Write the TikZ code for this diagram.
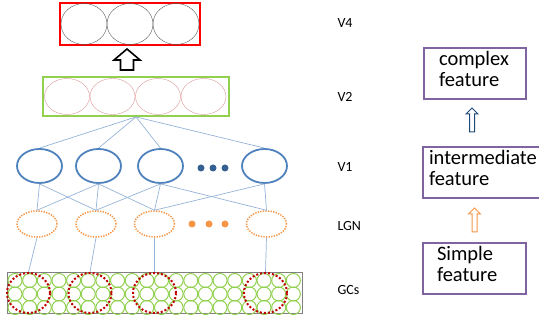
\documentclass[tikz,border=0pt]{standalone}
\usepackage{fontspec}
\setmainfont{Carlito}
\usetikzlibrary{shapes.geometric}
\definecolor{boxred}{HTML}{FF0000}
\definecolor{boxgreen}{HTML}{92D050}
\definecolor{rosy}{HTML}{D99694}
\definecolor{cellblue}{HTML}{4F81BD}
\definecolor{linkblue}{HTML}{95B3D7}
\definecolor{dotblue}{HTML}{376092}
\definecolor{cellorange}{HTML}{F79646}
\definecolor{gcred}{HTML}{C00000}
\definecolor{featpurple}{HTML}{8064A2}
\definecolor{arrowblue}{HTML}{1F497D}
\tikzset{
  cell/.style={ellipse,inner sep=0pt},
  v4cell/.style={cell,draw=black!65,minimum width=46,minimum height=41},
  v2cell/.style={cell,draw=rosy,minimum width=45,minimum height=36},
  v1cell/.style={cell,draw=cellblue,line width=1.8pt,minimum width=45,minimum height=34},
  lgncell/.style={cell,draw=cellorange,line width=1.5pt,dash pattern=on 1.3pt off 1.3pt,minimum width=40,minimum height=26},
  rf/.style={cell,draw=gcred,line width=2pt,dash pattern=on 2pt off 2pt,minimum width=43,minimum height=40},
  link/.style={draw=linkblue,line width=0.7pt},
  area/.style={anchor=west,font=\fontsize{14}{17}\selectfont},
  featbox/.style={draw=featpurple,line width=1.5pt,minimum height=49,align=left,
    font=\fontsize{20.5}{21}\selectfont,execute at end node={\par\vspace{9pt}}}
}
\begin{document}
\begin{tikzpicture}[x=1pt,y=-1pt]
\clip (0,0) rectangle (539,323);

% V4
\node[draw=boxred,line width=1.8pt,minimum width=140,minimum height=42,inner sep=0pt] (v4) at (130,24) {};
\foreach \i/\x in {1/84,2/130,3/176}
  \node[v4cell] (v4-\i) at (\x,24) {};
\draw[line width=1.6pt,line join=miter] (127,49) -- ++(13,11) -- ++(-6.5,0) -- ++(0,10)
  -- ++(-13,0) -- ++(0,-10) -- ++(-6.5,0) -- cycle;

% V2
\node[draw=boxgreen,line width=1.8pt,minimum width=186,minimum height=39,inner sep=0pt] (v2) at (136,96.5) {};
\foreach \i/\x in {1/67,2/112.5,3/158,4/203.5}
  \node[v2cell] (v2-\i) at (\x,96.5) {};

% V1
\foreach \i/\x in {1/39.5,2/98.5,3/160.5,4/264.5}
  \node[v1cell] (v1-\i) at (\x,166) {};
\foreach \x in {201,213,225}
  \fill[dotblue] (\x,168) circle (3.5);

% LGN
\foreach \i/\x in {1/37,2/96,3/154.5,4/266.5}
  \node[lgncell] (lgn-\i) at (\x,224) {};
\foreach \x in {192,209,225}
  \fill[cellorange] (\x,224) circle (3.5);

% GCs
\node[draw=black!50,line width=1pt,minimum width=295,minimum height=41,inner sep=0pt] (gc) at (154.5,293.5) {};
\foreach \c in {0,...,19}
  \foreach \y in {280.5,294,307.5}
    \draw[boxgreen,line width=1pt] (15+14.65*\c,\y) circle (7);
\foreach \i/\x in {1/28.5,2/90,3/154.5,4/265.5}
  \node[rf] (gc-\i) at (\x,293) {};

% connections
\foreach \i in {1,...,4}
  \draw[link] (v2.south) -- (v1-\i.north);
\foreach \a/\b in {1/1,1/2,2/1,2/2,2/3,3/2,3/3,3/4,4/3,4/4}
  \draw[link] (v1-\a.south) -- (lgn-\b.north);
\foreach \i in {1,...,4}
  \draw[link] (lgn-\i.south) -- (gc-\i.north);

% area labels
\node[area] (lv4) at (334,23) {V4};
\node[area] (lv2) at (334,97) {V2};
\node[area] (lv1) at (334,167) {V1};
\node[area] (llgn) at (334,226) {LGN};
\node[area] (lgcs) at (334,290) {GCs};

% features
\node[featbox,minimum width=102,text width=72,inner xsep=15] (cplx) at (475,73.5) {complex\\feature};
\node[featbox,minimum width=127,text width=115,inner xsep=6] (inter) at (486.5,172.5) {intermediate\\feature};
\node[featbox,minimum width=103,text width=75,inner xsep=14] (simp) at (474.5,268.5) {Simple\\feature};
\draw[arrowblue,line width=1pt] (472,108) -- ++(6,6) -- ++(-3.5,0) -- ++(0,18)
  -- ++(-5,0) -- ++(0,-18) -- ++(-3.5,0) -- cycle;
\draw[cellorange,line width=1pt] (474.5,208) -- ++(6,6) -- ++(-3.5,0) -- ++(0,18)
  -- ++(-5,0) -- ++(0,-18) -- ++(-3.5,0) -- cycle;
\end{tikzpicture}
\end{document}
